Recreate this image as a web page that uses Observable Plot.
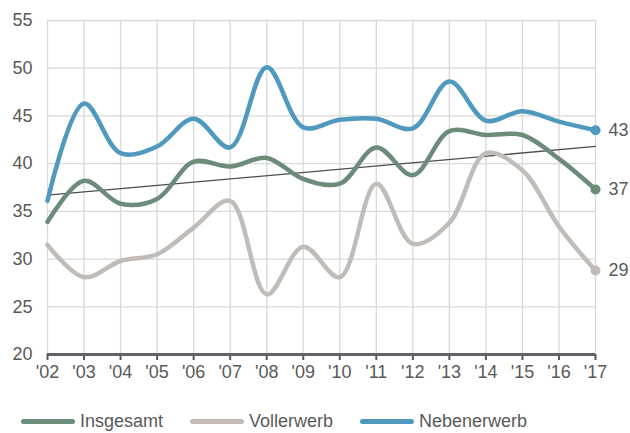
<!DOCTYPE html>
<html><head><meta charset="utf-8">
<script src="https://cdn.jsdelivr.net/npm/d3@7"></script>
<script src="https://cdn.jsdelivr.net/npm/@observablehq/plot@0.6"></script>
<style>
body{margin:0;background:#fff;font-family:"Liberation Sans",Arial,sans-serif;}
#chart svg{display:block;}
#legend{display:flex;margin-left:21px;margin-top:16px;font-size:18px;line-height:21px;color:#595959;}
#legend .it{display:flex;align-items:center;}
#legend .sw{width:54px;height:5px;border-radius:3px;margin-right:5px;}
</style></head><body>
<div id="chart"></div>
<div id="legend"></div>
<script>
const years = [2002,2003,2004,2005,2006,2007,2008,2009,2010,2011,2012,2013,2014,2015,2016,2017];
const insgesamt   = [33.9,38.2,35.8,36.3,40.2,39.7,40.6,38.4,37.9,41.7,38.8,43.4,43.0,43.0,40.5,37.3];
const vollerwerb  = [31.5,28.1,29.8,30.5,33.3,36.1,26.3,31.3,28.1,37.9,31.6,33.8,41.1,39.3,33.4,28.8];
const nebenerwerb = [36.1,46.3,41.1,41.8,44.7,41.7,50.1,43.8,44.6,44.7,43.7,48.6,44.5,45.5,44.4,43.5];
const trendYears = [2002,2017];
const trendValues = [36.7,41.8];
const seriesNames = ["Insgesamt","Vollerwerb","Nebenerwerb"];
const seriesValues = [insgesamt, vollerwerb, nebenerwerb];
const colors = ["#6c8b7b","#c1bcb7","#4f98be"];
const endLabels = ["37","29","43"];
const yTicks = [20,25,30,35,40,45,50,55];

const rows = seriesNames.flatMap((s,i)=>years.map((y,j)=>({series:s,year:y,value:seriesValues[i][j]})));
const last = seriesNames.map((s,i)=>({series:s,year:years[years.length-1],value:seriesValues[i][years.length-1],label:endLabels[i]}));
const trend = trendYears.map((y,i)=>({year:y,value:trendValues[i]}));

const chart = Plot.plot({
  width:630, height:395,
  marginLeft:47, marginRight:35, marginTop:20, marginBottom:41,
  style:{fontFamily:"'Liberation Sans',Arial,sans-serif",fontSize:"18px",color:"#595959",background:"#fff"},
  x:{domain:[2002,2017], label:null},
  y:{domain:[20,55], label:null},
  color:{domain:seriesNames, range:colors},
  marks:[
    Plot.gridX(years,{stroke:"#d9d9d9",strokeOpacity:1,strokeWidth:1.3}),
    Plot.gridY(yTicks,{stroke:"#d9d9d9",strokeOpacity:1,strokeWidth:1.3}),
    Plot.axisY({ticks:yTicks,tickSize:0,tickPadding:15,fontSize:18,fill:"#595959"}),
    Plot.axisX({ticks:years,tickFormat:d=>"'"+String(d).slice(2),tickSize:6,tickPadding:5,stroke:"#595959",strokeWidth:2,fontSize:18,fill:"#595959"}),
    Plot.ruleY([20],{stroke:"#5f6368",strokeWidth:3}),
    Plot.line(trend,{x:"year",y:"value",stroke:"#4d4d4d",strokeWidth:1.3}),
    Plot.line(rows,{x:"year",y:"value",z:"series",stroke:"series",strokeWidth:4.5,curve:"catmull-rom"}),
    Plot.dot(last,{x:"year",y:"value",fill:"series",r:5}),
    Plot.text(last,{x:"year",y:"value",text:"label",dx:13,textAnchor:"start",fontSize:18,fill:"#595959"})
  ]
});
document.getElementById("chart").append(chart);
const lg = document.getElementById("legend");
const widths=[169,170,200];
seriesNames.forEach((s,i)=>{
  const d=document.createElement("div");d.className="it";d.style.width=widths[i]+"px";
  d.innerHTML=`<div class="sw" style="background:${colors[i]}"></div><span>${s}</span>`;
  lg.append(d);
});
</script></body></html>
